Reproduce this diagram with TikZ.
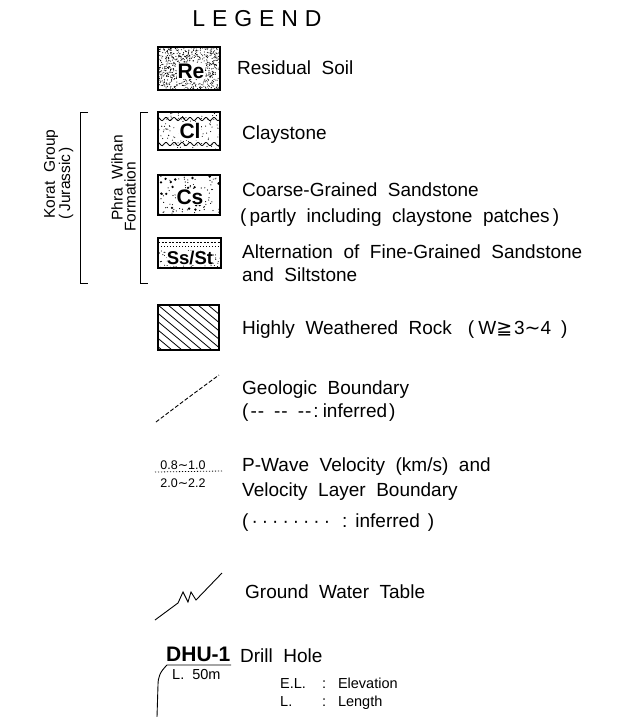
\documentclass[tikz,border=0pt]{standalone}
\usepackage{fontspec}
\setmainfont[WordSpace=2.0]{Liberation Sans}
\newfontfamily\legendfont[LetterSpace=30]{Liberation Sans}
\newfontfamily\symfnt{DejaVu Sans}
\begin{document}
\begin{tikzpicture}[x=1pt,y=-1pt,
  lbl/.style={anchor=west,inner sep=0pt,font=\fontsize{19}{22}\selectfont},
  small/.style={anchor=base west,inner sep=0pt,font=\fontsize{14.5}{16}\selectfont},
  rot/.style={rotate=90,inner sep=0pt,font=\fontsize{15.5}{17}\selectfont},
  boxline/.style={draw=black,line width=1.2pt},
  code/.style={inner sep=0.8pt,fill=white,font=\bfseries\fontsize{21}{22}\selectfont}]
\path[use as bounding box,fill=white] (0,0) rectangle (635,717);
\pgfmathsetseed{11}

% title
\node[inner sep=0pt,font=\legendfont\fontsize{23}{26}\selectfont] (title) at (257,19) {LEGEND};

% Residual soil
\begin{scope}
\clip (158,47) rectangle (220,90);
\foreach \i in {1,...,700} {\fill ({158+62*rnd},{47+43*rnd}) circle (0.55);}
\end{scope}
\draw[boxline] (158,47) rectangle (220,90);
\node[code] (re) at (191,71) {Re};
\node[lbl] (tre) at (237,68) {Residual Soil};

% Claystone
\begin{scope}
\clip (158,112) rectangle (220,150);
\foreach \i in {1,...,120} {\fill ({158+62*rnd},{112+38*rnd}) circle (0.55);}
\draw[line width=0.8pt] plot[domain=158:220,samples=60] (\x,{119+1.6*sin(\x*45)});
\draw[line width=0.8pt] plot[domain=158:220,samples=60] (\x,{144+1.6*sin(\x*45)});
\end{scope}
\draw[boxline] (158,112) rectangle (220,150);
\node[code] (cl) at (190,131) {Cl};
\node[lbl] (tcl) at (242,135) {Claystone};

% Coarse sandstone
\begin{scope}
\clip (158,175) rectangle (220,215);
\foreach \i in {1,...,90} {\fill ({158+62*rnd},{175+40*rnd}) circle (0.6);}
\foreach \i in {1,...,18} {\fill ({158+62*rnd},{175+40*rnd}) circle (1.3);}
\end{scope}
\draw[boxline] (158,175) rectangle (220,215);
\node[code] (cs) at (190,197) {Cs};
\node[lbl] (tcs1) at (242,190) {Coarse-Grained Sandstone};
\node[lbl] (tcs2) at (240,218) {(\,partly including claystone patches\,)};

% Ss/St
\begin{scope}
\clip (158,238) rectangle (221,268);
\foreach \i in {1,...,80} {\fill ({158+63*rnd},{250+18*rnd}) circle (0.55);}
\draw[line width=1pt,dash pattern=on 2pt off 1.5pt] (158,242) -- (221,242);
\draw[line width=0.8pt,dash pattern=on 1pt off 2pt] (158,246) -- (221,246);
\end{scope}
\draw[boxline] (158,238) rectangle (221,268);
\node[code,inner sep=0.3pt,font=\bfseries\fontsize{18.5}{19}\selectfont] (ss) at (190,258) {Ss/St};
\node[lbl] (tss1) at (242,252) {Alternation of Fine-Grained Sandstone};
\node[lbl] (tss2) at (242,275) {and Siltstone};

% brackets
\draw[line width=0.9pt] (148,112) -- (140,112) -- (140,283) -- (148,283);
\draw[line width=0.9pt] (88,112) -- (80,112) -- (80,283) -- (88,283);
\node[rot] (phra) at (117,178) {Phra Wihan};
\node[rot] (form) at (130,197) {Formation};
\node[rot] (korat) at (51,174) {Korat Group};
\node[rot] (jur) at (66,183) {(\,Jurassic\,)};

% Highly weathered
\begin{scope}
\clip (158,305) rectangle (219,350);
\foreach \k in {-60,-50,...,90} {\draw[line width=0.8pt] (158+\k,305) -- ++(60,50);}
\end{scope}
\draw[boxline] (158,305) rectangle (219,350);
\node[lbl] (thw) at (242,330) {Highly Weathered Rock\hspace{16pt}(\hspace{4pt}W{\symfnt ≧}\hspace{2pt}3{\symfnt ∼}4\hspace{10pt})};

% Geologic boundary
\coordinate (gb1) at (156,422);
\coordinate (gb2) at (219,375);
\draw[line width=0.9pt,dash pattern=on 4pt off 2pt] (gb1) .. controls (185,400) .. (gb2);
\node[lbl] (tgb1) at (242,390) {Geologic Boundary};
\node[lbl] (tgb2) at (242,413) {(\kern2pt-\kern1pt-\hspace{10pt}-\kern1pt-\hspace{10pt}-\kern1pt-\kern2pt:\hspace{4pt}inferred\kern2pt)};

% P-wave
\node[inner sep=0pt,font=\fontsize{12.5}{13}\selectfont] (v1) at (183,465) {0.8{\symfnt ∼}1.0};
\node[inner sep=0pt,font=\fontsize{12.5}{13}\selectfont] (v2) at (183,483) {2.0{\symfnt ∼}2.2};
\coordinate (pv1) at (155,472);
\coordinate (pv2) at (222,471);
\draw[line width=0.8pt,dash pattern=on 1.2pt off 1.8pt] (pv1) -- (pv2);
\node[lbl] (tpv1) at (242,467) {P-Wave Velocity (km/s) and};
\node[lbl] (tpv2) at (242,492) {Velocity Layer Boundary};
\node[lbl] (tpv3) at (242,523) {(\kern3pt·\kern4pt·\kern4pt·\kern4pt·\kern4pt·\kern4pt·\kern4pt·\kern4pt·\hspace{12pt}:\hspace{8pt}inferred\hspace{8pt})};

% Ground water table
\coordinate (gw1) at (155,620);
\coordinate (gw2) at (222,573);
\draw[line width=0.9pt] (gw1) -- (178,603) -- (183,592) -- (188,602) -- (191,592) -- (196,600) -- (gw2);
\node[lbl] (tgw) at (245,592) {Ground Water Table};

% Drill hole
\node[anchor=west,inner sep=0pt,font=\bfseries\fontsize{21}{22}\selectfont] (dhu) at (166,654) {DHU-1};
\node[lbl] (tdh) at (240,656) {Drill Hole};
\coordinate (dl1) at (231,665);
\coordinate (dl2) at (157,717);
\draw[line width=0.9pt] (dl1) -- (167,665) .. controls (160,672) and (158,677) .. (158,685) -- (dl2);
\node[small] (l50) at (172,679) {L. 50m};
\node[small] (el) at (280,688) {E.L.};
\node[small] (elv) at (322,688) {:\, Elevation};
\node[small] (ll) at (280,706) {L.};
\node[small] (llv) at (322,706) {:\, Length};
\end{tikzpicture}
\end{document}
